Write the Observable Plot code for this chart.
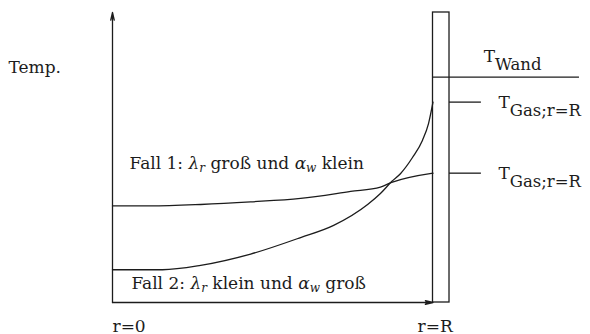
<!DOCTYPE html>
<html>
<head>
<meta charset="utf-8">
<script src="https://cdn.jsdelivr.net/npm/d3@7"></script>
<script src="https://cdn.jsdelivr.net/npm/@observablehq/plot@0.6"></script>
<style>
  html, body { margin: 0; padding: 0; background: #fff; }
</style>
</head>
<body>
<div id="chart"></div>
<script>
// Radial position r/R (0 = axis, 1 = wall) and gas temperature (arbitrary units)
const r1 = [0, 0.119, 0.275, 0.431, 0.587, 0.743, 0.836, 0.871, 1];
const temp1 = [33.3, 33.3, 33.8, 34.7, 35.9, 38.3, 39.8, 41.4, 44.6];

const r2 = [0, 0.156, 0.275, 0.431, 0.587, 0.690, 0.796, 0.836, 0.871, 0.899, 0.936, 0.967, 0.986, 1];
const temp2 = [11.3, 11.3, 12.8, 16.7, 22.4, 26.6, 33.8, 37.6, 41.7, 44.5, 50.0, 55.9, 61.7, 69.1];

// Wall temperature and wall thickness (in units of R)
const tWand = 77.7;
const wallThickness = 0.0515;

// Texts
const axisLabel = "Temp.";
const caseLabels = ["Fall 1: λ_{r} groß und α_{w} klein", "Fall 2: λ_{r} klein und α_{w} groß"];
const rTickLabels = ["r=0", "r=R"];
const wallLabel = "T_{Wand}";
const gasLabel = "T_{Gas;r=R}";

const fall1 = r1.map((r, i) => ({r, t: temp1[i]}));
const fall2 = r2.map((r, i) => ({r, t: temp2[i]}));
const gasAtWall = [temp1[temp1.length - 1], temp2[temp2.length - 1]];

const ink = "#1c1c1c";
const lw = 1.3;
const label = {textAnchor: "start", lineAnchor: "bottom", text: d => d};

const plot = Plot.plot({
  width: 590,
  height: 334,
  marginLeft: 112,
  marginRight: 157.5,
  marginTop: 12,
  marginBottom: 32,
  x: {domain: [0, 1], axis: null},
  y: {domain: [0, 100], axis: null},
  style: {fontFamily: "'DejaVu Serif', serif", fontSize: "17px", color: ink, background: "#fff"},
  marks: [
    // axes with arrow heads
    Plot.arrow([0], {x1: 0, y1: 0, x2: 0, y2: 100, stroke: ink, strokeWidth: lw, headLength: 9, headAngle: 26}),
    Plot.arrow([0], {x1: 0, y1: 0, x2: 1, y2: 0, stroke: ink, strokeWidth: lw, headLength: 9, headAngle: 26}),
    // pipe wall
    Plot.rect([0], {x1: 1, x2: 1 + wallThickness, y1: 0, y2: 100, fill: "none", stroke: ink, strokeWidth: lw}),
    // wall temperature level
    Plot.ruleY([tWand], {x1: 1, x2: 1.457, stroke: ink, strokeWidth: lw}),
    // gas temperature at the wall for both cases
    Plot.ruleY(gasAtWall, {x1: 1 + wallThickness, x2: 1.151, stroke: ink, strokeWidth: lw}),
    // radial temperature profiles
    Plot.line(fall1, {x: "r", y: "t", curve: "monotone-x", stroke: ink, strokeWidth: lw}),
    Plot.line(fall2, {x: "r", y: "t", curve: "monotone-x", stroke: ink, strokeWidth: lw}),
    // labels
    Plot.text([axisLabel], {...label, x: -0.3245, y: 79}),
    Plot.text([caseLabels[0]], {...label, x: 0.053, y: 45.9}),
    Plot.text([caseLabels[1]], {...label, x: 0.059, y: 4.5}),
    Plot.text([rTickLabels[0]], {...label, x: 0, y: 0, dy: 29}),
    Plot.text([rTickLabels[1]], {...label, x: 0.952, y: 0, dy: 29}),
    Plot.text([tWand], {...label, x: 1.158, y: d => d, dy: -15, text: () => wallLabel}),
    Plot.text(gasAtWall, {...label, x: 1.204, y: d => d, dy: 5.5, text: () => gasLabel})
  ]
});

// Turn "_{...}" into subscripts and set Greek symbols in italic.
// Temperature symbols (T_...) carry a full-size upright subscript set deep;
// the coefficients in the case labels a small italic one.
function typeset(root) {
  d3.select(root).selectAll("text").each(function() {
    const src = this.textContent;
    if (!src.includes("_{")) return;
    const big = src.startsWith("T_");
    const subSize = big ? "16.5px" : "12px";
    const subShift = big ? 8 : 3;
    const el = d3.select(this).text(null);
    const re = /_\{([^}]*)\}|([λα])/g;
    let last = 0, pending = 0, m;
    const span = (s, italic) => {
      const t = el.append("tspan").text(s);
      if (italic) t.attr("font-style", "italic");
      if (pending) { t.attr("dy", -pending); pending = 0; }
    };
    while ((m = re.exec(src))) {
      if (m.index > last) span(src.slice(last, m.index), false);
      if (m[1] !== undefined) {
        const sub = el.append("tspan").attr("font-size", subSize).attr("dy", subShift).text(m[1]);
        if (!big) sub.attr("font-style", "italic");
        pending = subShift;
      } else {
        span(m[2], true);
      }
      last = re.lastIndex;
    }
    if (last < src.length) span(src.slice(last), false);
  });
}
typeset(plot);

document.getElementById("chart").appendChild(plot);
</script>
</body>
</html>
